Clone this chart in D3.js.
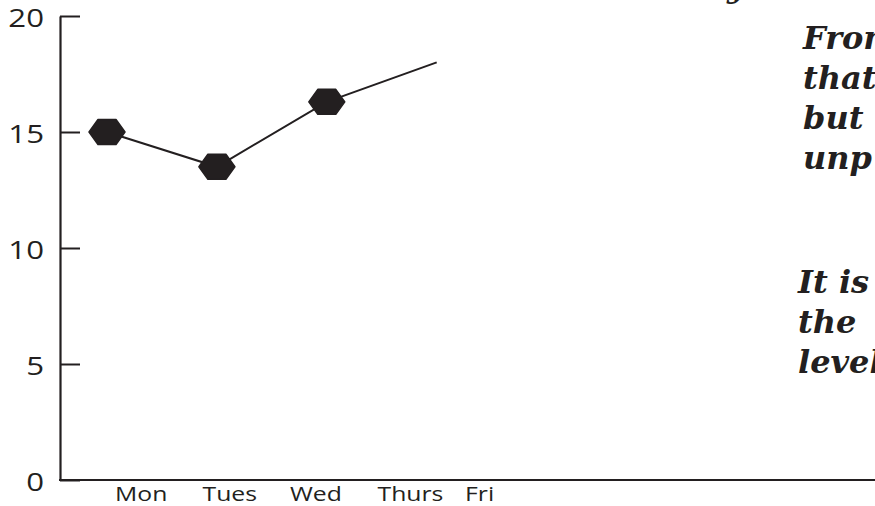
<!DOCTYPE html>
<html><head><meta charset="utf-8">
<script src="https://cdn.jsdelivr.net/npm/d3@7"></script>
<style>body{margin:0;background:#fff;overflow:hidden}</style>
</head><body><svg id="chart" width="875" height="506"></svg>
<script>
const days = ["Mon", "Tues", "Wed", "Thurs", "Fri"];
const lineDays = ["Mon", "Tues", "Wed", "Thurs"];
const values = [15, 13.5, 16.3, 18];
const markedDays = ["Mon", "Tues", "Wed"];
const yTicks = [0, 5, 10, 15, 20];
const noteBlock1 = ["From", "that", "but", "unp"];
const noteBlock2 = ["It is", "the", "level"];
const titleFragment = ["y"];

const ink = "#231f20";
const svg = d3.select("#chart");

const y = d3.scaleLinear().domain([0, 20]).range([480, 16]);
const x = d3.scalePoint().domain(days).range([107, 546.6]);
const xLab = d3.scalePoint().domain(days).range([115, 465]);

// y axis
const yAxis = svg.append("g").attr("transform", "translate(60,0)")
  .call(d3.axisLeft(y).tickValues(yTicks).tickSizeInner(-20).tickSizeOuter(0).tickPadding(16));
yAxis.select(".domain").attr("stroke", ink).attr("stroke-width", 2.2);
yAxis.selectAll(".tick line").attr("stroke", ink).attr("stroke-width", 2);
yAxis.selectAll(".tick text")
  .attr("x", null)
  .attr("dy", "0.42em")
  .attr("transform", "translate(-16,0) scale(1.2,1)")
  .attr("fill", ink)
  .style("font-family", "'Open Sans', sans-serif")
  .style("font-size", "26px");

// x axis baseline
svg.append("line").attr("x1", 59).attr("x2", 875).attr("y1", y(0)).attr("y2", y(0))
  .attr("stroke", ink).attr("stroke-width", 2);

// x labels
svg.append("g").selectAll("text").data(days).join("text")
  .attr("transform", d => `translate(${xLab(d)},501) scale(1.27,1)`)
  .attr("fill", ink)
  .style("font-family", "'Open Sans', sans-serif")
  .style("font-size", "19.5px")
  .text(d => d);

// line
const pts = lineDays.map((d, i) => ({day: d, v: values[i]}));
svg.append("path").datum(pts)
  .attr("fill", "none").attr("stroke", ink).attr("stroke-width", 2)
  .attr("d", d3.line().x(d => x(d.day)).y(d => y(d.v)));

// hexagon markers
const hex = "M-18,0L-9,-12.5L9,-12.5L18,0L9,12.5L-9,12.5Z";
svg.append("g").selectAll("path").data(pts.filter(p => markedDays.includes(p.day))).join("path")
  .attr("transform", d => `translate(${x(d.day)},${y(d.v)})`)
  .attr("d", hex)
  .attr("fill", ink).attr("stroke", ink).attr("stroke-width", 1.5).attr("stroke-linejoin", "round");

// notes
const serif = "'DejaVu Serif', serif";
function note(lines, x0, y0, step) {
  svg.append("g").selectAll("text").data(lines).join("text")
    .attr("x", x0).attr("y", (d, i) => y0 + i * step)
    .attr("fill", ink)
    .style("font-family", serif).style("font-weight", "bold").style("font-style", "italic")
    .style("font-size", "32px")
    .text(d => d);
}
note(titleFragment, 727, -3, 0);
note(noteBlock1, 803, 49, 40);
note(noteBlock2, 798, 293, 40);
</script></body></html>
